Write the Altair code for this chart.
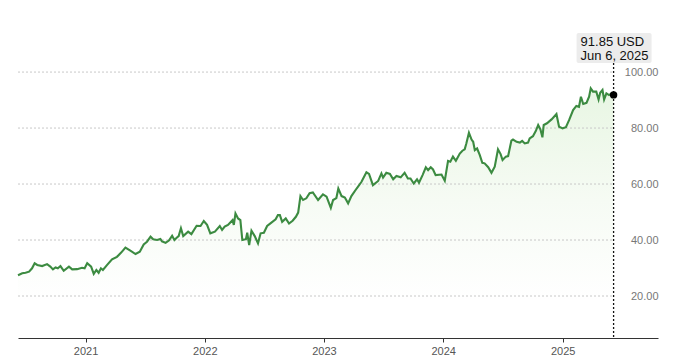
import altair as alt
import pandas as pd

dates = [
    "2020-06-08", "2020-06-21", "2020-07-01", "2020-07-12", "2020-07-21", "2020-07-29",
    "2020-08-06", "2020-08-21", "2020-09-05", "2020-09-15", "2020-09-23", "2020-10-01",
    "2020-10-08", "2020-10-16", "2020-10-26", "2020-11-11", "2020-11-21", "2020-12-06",
    "2020-12-21", "2020-12-29", "2021-01-06", "2021-01-18", "2021-01-26", "2021-02-03",
    "2021-02-10", "2021-02-17", "2021-02-23", "2021-03-08", "2021-03-23", "2021-04-07",
    "2021-04-20", "2021-05-03", "2021-05-18", "2021-06-03", "2021-06-16", "2021-06-28",
    "2021-07-08", "2021-07-19", "2021-07-27", "2021-08-08", "2021-08-18", "2021-08-23",
    "2021-09-03", "2021-09-13", "2021-09-23", "2021-09-30", "2021-10-07", "2021-10-13",
    "2021-10-20", "2021-10-27", "2021-11-11", "2021-11-21", "2021-12-07", "2021-12-19",
    "2021-12-29", "2022-01-08", "2022-01-18", "2022-02-01", "2022-02-16", "2022-02-23",
    "2022-03-03", "2022-03-13", "2022-03-27", "2022-03-31", "2022-04-05", "2022-04-13",
    "2022-04-20", "2022-04-26", "2022-05-07", "2022-05-11", "2022-05-17", "2022-05-24",
    "2022-06-03", "2022-06-13", "2022-06-21", "2022-07-01", "2022-07-11", "2022-07-24",
    "2022-08-06", "2022-08-13", "2022-08-19", "2022-08-26", "2022-09-06", "2022-09-16",
    "2022-09-27", "2022-10-07", "2022-10-14", "2022-10-21", "2022-10-29", "2022-11-08",
    "2022-11-18", "2022-11-28", "2022-12-14", "2022-12-29", "2023-01-09", "2023-01-22",
    "2023-01-29", "2023-02-08", "2023-02-14", "2023-02-24", "2023-03-06", "2023-03-16",
    "2023-03-26", "2023-04-11", "2023-04-26", "2023-05-11", "2023-05-19", "2023-05-31",
    "2023-06-16", "2023-06-26", "2023-07-01", "2023-07-11", "2023-07-22", "2023-08-01",
    "2023-08-11", "2023-08-24", "2023-09-05", "2023-09-15", "2023-09-23", "2023-10-03",
    "2023-10-13", "2023-10-19", "2023-10-30", "2023-11-09", "2023-11-16", "2023-11-24",
    "2023-12-01", "2023-12-09", "2023-12-27", "2024-01-06", "2024-01-16", "2024-01-23",
    "2024-01-31", "2024-02-09", "2024-02-21", "2024-02-29", "2024-03-07", "2024-03-12",
    "2024-03-20", "2024-03-28", "2024-04-02", "2024-04-07", "2024-04-14", "2024-04-22",
    "2024-04-30", "2024-05-07", "2024-05-18", "2024-05-28", "2024-06-07", "2024-06-17",
    "2024-06-25", "2024-07-01", "2024-07-11", "2024-07-18", "2024-07-28", "2024-08-02",
    "2024-08-13", "2024-08-23", "2024-08-30", "2024-09-07", "2024-09-17", "2024-09-22",
    "2024-10-02", "2024-10-11", "2024-10-18", "2024-10-25", "2024-10-31", "2024-11-04",
    "2024-11-14", "2024-11-28", "2024-12-13", "2024-12-21", "2025-01-01", "2025-01-11",
    "2025-01-21", "2025-02-02", "2025-02-12", "2025-02-20", "2025-02-26", "2025-03-05",
    "2025-03-15", "2025-03-23", "2025-03-28", "2025-04-04", "2025-04-14", "2025-04-21",
    "2025-04-26", "2025-05-03", "2025-05-08", "2025-05-15", "2025-05-23", "2025-05-31",
    "2025-06-06",
]

prices = [
    27.4, 28.1, 28.3, 28.7, 29.9, 31.7,
    31.1, 30.7, 31.4, 30.5, 29.5, 30.2,
    29.9, 30.7, 29.0, 30.5, 29.5, 29.6,
    30.1, 29.9, 31.7, 30.5, 27.9, 29.3,
    28.3, 29.9, 29.3, 31.1, 33.1, 34.0,
    35.5, 37.3, 36.2, 35.0, 35.8, 38.4,
    39.4, 41.2, 40.3, 40.0, 40.4, 39.5,
    39.0, 39.8, 41.5, 40.0, 40.8, 41.4,
    44.2, 41.4, 43.0, 42.1, 45.1, 45.0,
    46.8, 45.4, 42.4, 43.0, 45.0, 43.6,
    44.8, 45.4, 47.1, 45.4, 49.5, 47.7,
    47.1, 40.0, 40.3, 42.6, 38.2, 43.3,
    41.4, 38.8, 42.4, 42.6, 45.0, 46.2,
    47.4, 48.9, 48.9, 46.5, 47.7, 45.9,
    46.9, 48.3, 49.8, 55.7, 54.3, 54.9,
    56.7, 57.0, 54.3, 56.3, 55.5, 51.5,
    54.3, 55.0, 58.4, 55.7, 55.2, 53.1,
    55.7, 58.4, 60.8, 64.2, 63.6, 59.6,
    61.1, 63.8, 62.3, 64.0, 63.6, 61.7,
    62.9, 62.4, 64.0, 62.0, 62.0, 60.2,
    61.7, 60.5, 63.2, 66.0, 65.0, 66.0,
    65.2, 63.2, 63.4, 61.2, 68.3, 68.0,
    69.8, 68.3, 70.9, 71.9, 72.4, 74.5,
    78.3, 75.9, 75.1, 72.1, 72.7, 70.4,
    67.6, 67.4, 66.0, 64.0, 66.2, 72.4,
    70.7, 68.6, 69.8, 70.0, 75.5, 75.9,
    75.1, 74.8, 75.4, 74.5, 74.8, 76.3,
    77.1, 79.0, 81.1, 79.5, 76.7, 81.1,
    81.7, 83.1, 85.0, 80.5, 79.9, 80.3,
    82.9, 86.4, 87.9, 87.6, 91.2, 88.6,
    89.0, 91.2, 94.2, 93.0, 93.0, 90.2,
    92.6, 93.6, 90.2, 92.4, 91.8, 92.4,
    91.85,
]

y_ticks = [20, 40, 60, 80, 100]
annotation_text = "91.85 USD\nJun 6, 2025"

FONT = "Liberation Sans"
LINE_GREEN = "#3c8b41"

df = pd.DataFrame({"date": dates, "price": prices})
last = df.iloc[[-1]].reset_index(drop=True)
last["label"] = annotation_text
grid_df = pd.DataFrame({"price": y_ticks, "date": dates[0], "end": dates[-1]})

x_scale = alt.Scale(domain=[alt.DateTime(year=2020, month=6, date=8),
                            alt.DateTime(year=2025, month=10, date=20)])
y_scale = alt.Scale(domain=[5, 118.6], nice=False, zero=False)

x_enc = alt.X("date:T", scale=x_scale,
              axis=alt.Axis(format="%Y", tickCount={"interval": "year", "step": 1},
                            title=None, grid=False, domainColor="#333333", domainWidth=1.2,
                            tickColor="#333333", tickSize=4, labelPadding=3,
                            labelColor="#555555", labelFontSize=11, labelFont=FONT))
y_enc = alt.Y("price:Q", scale=y_scale,
              axis=alt.Axis(orient="right", values=y_ticks, format=".2f", title=None,
                            grid=False, domain=False, ticks=False, tickSize=0,
                            labelAlign="right", labelPadding=0, labelBaseline="middle",
                            labelColor="#777777", labelFontSize=11, labelFont=FONT))

base = alt.Chart(df)

area = base.mark_area(
    color=alt.Gradient(gradient="linear",
                       stops=[alt.GradientStop(color="#e8f6e3", offset=0),
                              alt.GradientStop(color="#f6fbf4", offset=0.45),
                              alt.GradientStop(color="#ffffff", offset=0.85)],
                       x1=1, x2=1, y1=0, y2=1)
).encode(x=x_enc, y=y_enc, y2=alt.datum(5))

grid = alt.Chart(grid_df).mark_rule(color="#c8c8c8", strokeDash=[2, 2], strokeWidth=1).encode(
    x=x_enc, x2="end:T", y=y_enc)

line = base.mark_line(color=LINE_GREEN, strokeWidth=2.1).encode(x=x_enc, y=y_enc)

vline = alt.Chart(last).mark_rule(color="#111111", strokeDash=[2, 2], strokeWidth=1.3).encode(
    x=x_enc, y=alt.value(43), y2=alt.value(318))

dot = alt.Chart(last).mark_point(filled=True, color="#000000", size=55, opacity=1).encode(
    x=x_enc, y=y_enc)

box = alt.Chart(last).mark_rect(color="#ececec", cornerRadius=2, xOffset=-37, x2Offset=38).encode(
    x=x_enc, x2="date:T",
    y=alt.value(13), y2=alt.value(43))

ann_text = alt.Chart(last).mark_text(
    align="left", baseline="middle", dx=-33, fontSize=13, font=FONT, color="#111111",
    lineBreak="\n", lineHeight=14.5
).encode(
    x=x_enc, y=alt.value(21.5), text="label:N")

chart = alt.layer(area, grid, line, vline, dot, box, ann_text).properties(
    width=640, height=318,
    autosize=alt.AutoSizeParams(type="none"),
    padding={"left": 10, "top": 12, "right": 14, "bottom": 22},
    background="#ffffff",
).configure_view(stroke=None)

chart.save("out.html", embed_options={"renderer": "svg", "actions": False})
